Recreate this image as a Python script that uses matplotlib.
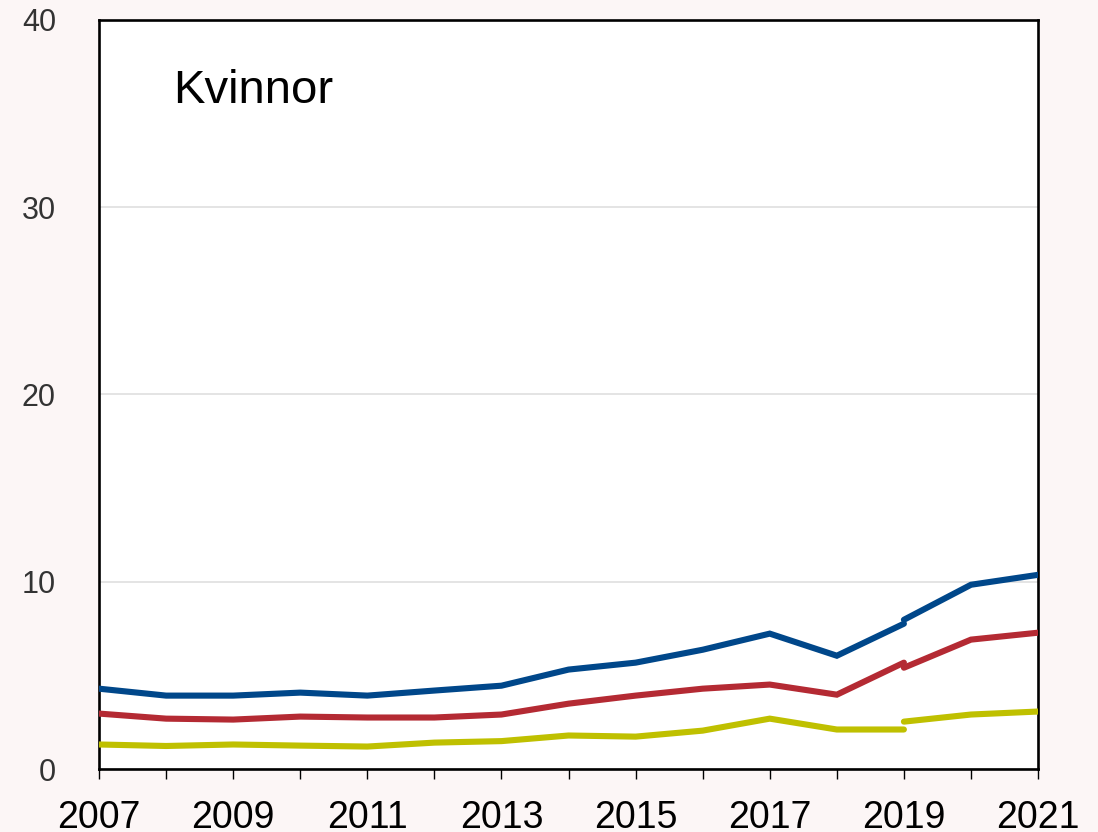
import matplotlib
matplotlib.use("Agg")
import matplotlib.pyplot as plt

plt.rcParams["font.family"] = ["Liberation Sans", "DejaVu Sans"]

# two segments per series: old method 2007-2019, new method 2019-2021
years_old = list(range(2007, 2020))
years_new = [2019, 2020, 2021]

blue_old   = [4.29, 3.92, 3.92, 4.08, 3.92, 4.19, 4.45, 5.31, 5.68, 6.37, 7.23, 6.05, 7.76]
blue_new   = [7.97, 9.84, 10.37]
red_old    = [2.96, 2.69, 2.64, 2.80, 2.75, 2.75, 2.91, 3.49, 3.92, 4.29, 4.51, 3.97, 5.68]
red_new    = [5.41, 6.91, 7.28]
yellow_old = [1.31, 1.23, 1.31, 1.25, 1.20, 1.41, 1.49, 1.79, 1.73, 2.05, 2.69, 2.11, 2.11]
yellow_new = [2.53, 2.91, 3.07]

colors = {"blue": "#00478a", "red": "#b42a33", "yellow": "#bfc000"}
bg = "#fcf6f6"

fig = plt.figure(figsize=(10.98, 8.32), dpi=100, facecolor=bg)
ax = fig.add_axes([0.0902, 0.0757, 0.8552, 0.9003])
ax.set_facecolor("white")

series = [
    ("blue", blue_old, blue_new),
    ("red", red_old, red_new),
    ("yellow", yellow_old, yellow_new),
]
for name, old, new in series:
    for xs, ys in ((years_old, old), (years_new, new)):
        ax.plot(xs, ys, color=colors[name], lw=4.4, solid_capstyle="round",
                solid_joinstyle="miter", zorder=3)

ax.set_xlim(2007, 2021)
ax.set_ylim(0, 40)
ax.set_yticks([0, 10, 20, 30, 40])
ax.set_xticks(range(2007, 2022))
ax.set_xticklabels([str(y) if (y - 2007) % 2 == 0 else "" for y in range(2007, 2022)])
ax.grid(axis="y", color="#e2e2e2", lw=1.3, zorder=0)
ax.set_axisbelow(True)

for s in ax.spines.values():
    s.set_color("black")
    s.set_linewidth(1.9)

ax.tick_params(axis="y", length=0, pad=31, labelsize=22, labelcolor="#333333")
ax.tick_params(axis="x", length=7, width=1.0, direction="out", pad=15,
               labelsize=27, labelcolor="black")

ax.text(0.079, 0.889, "Kvinnor", transform=ax.transAxes, fontsize=34,
        ha="left", va="baseline", color="black")

fig.savefig("out.png", dpi=100, facecolor=bg)
